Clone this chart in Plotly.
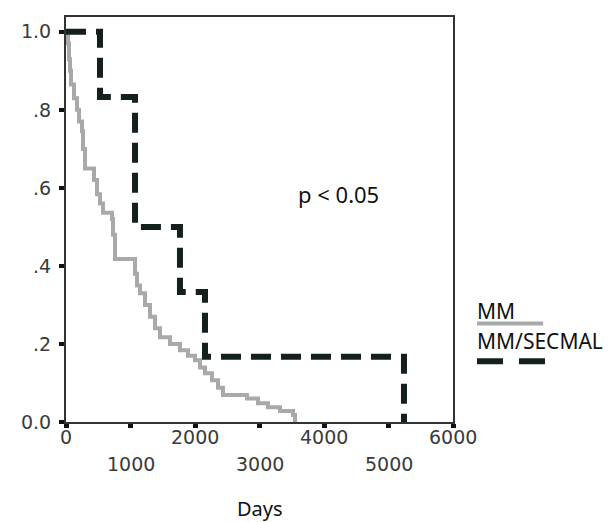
import plotly.graph_objects as go

# --- data ---
mm_days = [0, 31, 47, 62, 78, 124, 171, 202, 248, 264, 295, 434, 481, 527, 574, 713, 729, 760,
           1070, 1101, 1147, 1225, 1302, 1380, 1457, 1612, 1767, 1891, 2000, 2078, 2155, 2264,
           2357, 2434, 2806, 2977, 3132, 3318, 3519, 3550]
mm_surv = [1.0, 0.97, 0.93, 0.90, 0.865, 0.83, 0.80, 0.77, 0.745, 0.70, 0.65, 0.62, 0.584, 0.56,
           0.536, 0.52, 0.48, 0.418, 0.38, 0.35, 0.33, 0.30, 0.27, 0.24, 0.217, 0.20, 0.184, 0.17,
           0.158, 0.14, 0.125, 0.107, 0.088, 0.069, 0.06, 0.048, 0.038, 0.028, 0.018, 0.0]

sec_days = [0, 527, 1070, 1767, 2155, 5240]
sec_surv = [1.0, 0.833, 0.5, 0.333, 0.167, 0.0]

x_tickvals = [0, 1000, 2000, 3000, 4000, 5000, 6000]
x_ticktext = ["0", "1000", "2000", "3000", "4000", "5000", "6000"]
y_tickvals = [0, 0.2, 0.4, 0.6, 0.8, 1.0]
y_ticktext = ["0.0", ".2", ".4", ".6", ".8", "1.0"]

series_names = ["MM", "MM/SECMAL"]
gray = "#a8aaaa"
dark = "#14201d"

fig = go.Figure()
fig.add_trace(go.Scatter(x=mm_days, y=mm_surv, mode="lines", line_shape="hv",
                         line=dict(color=gray, width=4), name=series_names[0], showlegend=False))
fig.add_trace(go.Scatter(x=sec_days, y=sec_surv, mode="lines", line_shape="hv",
                         line=dict(color=dark, width=6, dash="20px,10px"),
                         name=series_names[1], showlegend=False))

tickfont = dict(family="DejaVu Sans", size=19, color="#3a3a3a")
fig.update_xaxes(range=[0, 6000], tickvals=x_tickvals, showticklabels=False,
                 showline=True, mirror=True, linecolor="#333", linewidth=2,
                 ticks="outside", ticklen=4, tickwidth=5, tickcolor="#111",
                 showgrid=False, zeroline=False)
fig.update_yaxes(range=[0, 1.038], tickvals=y_tickvals, ticktext=y_ticktext,
                 showline=True, mirror=True, linecolor="#333", linewidth=2,
                 ticks="outside", ticklen=5, tickwidth=4, tickcolor="#111",
                 showgrid=False, zeroline=False, tickfont=tickfont, ticklabelstandoff=4)

# staggered x tick labels (two rows)
for i, (v, t) in enumerate(zip(x_tickvals, x_ticktext)):
    fig.add_annotation(x=v, y=0, xref="x", yref="paper", text=t, showarrow=False,
                       xanchor="center", yanchor="middle", yshift=-15 if i % 2 == 0 else -42,
                       font=tickfont)

fig.add_annotation(x=0.5, y=0, xref="paper", yref="paper", text="Days", showarrow=False,
                   xanchor="center", yanchor="middle", yshift=-86,
                   font=dict(family="Noto Sans", size=20, color="#111"))

txtfont = dict(family="Noto Sans", size=21, color="#111")
fig.add_annotation(x=3560, y=0.584, xref="x", yref="y", text="p < 0.05", showarrow=False,
                   xanchor="left", yanchor="middle", font=dict(family="Noto Sans", size=22, color="#111"))

# legend (text above sample line)
fig.add_annotation(x=1.057, y=0.275, xref="paper", yref="paper", text=series_names[0],
                   showarrow=False, xanchor="left", yanchor="middle", font=txtfont)
fig.add_shape(type="line", xref="paper", yref="paper", x0=1.062, x1=1.233, y0=0.243, y1=0.243,
              line=dict(color=gray, width=4))
fig.add_annotation(x=1.057, y=0.199, xref="paper", yref="paper", text=series_names[1],
                   showarrow=False, xanchor="left", yanchor="middle", font=txtfont)
fig.add_shape(type="line", xref="paper", yref="paper", x0=1.062, x1=1.238, y0=0.150, y1=0.150,
              line=dict(color=dark, width=6, dash="26px,16px"))

fig.update_layout(width=603, height=514, margin=dict(l=58, r=158, t=7, b=100),
                  plot_bgcolor="white", paper_bgcolor="white", showlegend=False)

fig.write_html("out.html")
